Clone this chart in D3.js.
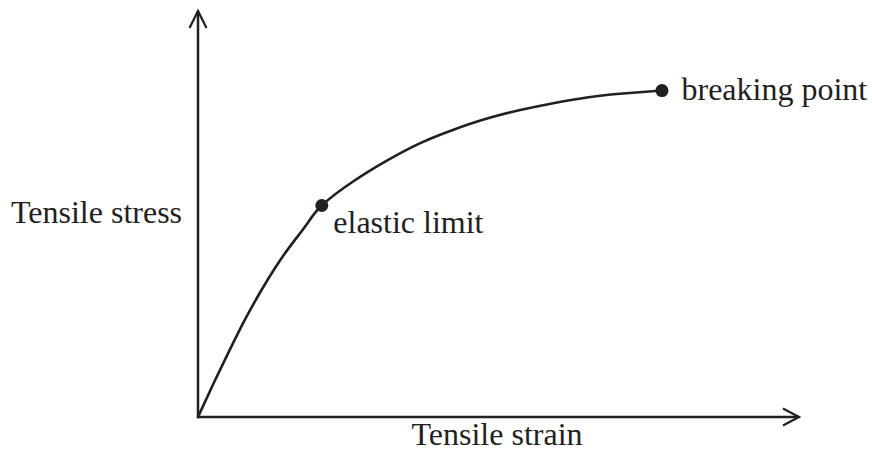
<!DOCTYPE html>
<html>
<head>
<meta charset="utf-8">
<script src="https://cdn.jsdelivr.net/npm/d3@7"></script>
<style>
  html, body { margin: 0; padding: 0; background: #ffffff; }
  svg { display: block; }
  text { font-family: "Liberation Serif", "Times New Roman", Times, serif; fill: #231f20; }
</style>
</head>
<body>
<svg id="chart" width="872" height="457"></svg>
<script>
// ---- data (arbitrary units: strain 0..10, stress 0..10) ----
const strain = [0, 0.26, 0.52, 0.77, 1.03, 1.29, 1.55, 1.81, 2.06, 2.58, 3.15, 3.69, 4.24, 4.81, 5.36, 5.91, 6.47, 7.02, 7.72];
const stress = [0, 0.83, 1.63, 2.37, 3.06, 3.69, 4.24, 4.75, 5.21, 5.80, 6.32, 6.74, 7.07, 7.35, 7.56, 7.73, 7.87, 7.96, 8.04];
const pointLabels = ["elastic limit", "breaking point"];
const pointStrain = [2.06, 7.72];
const pointStress = [5.21, 8.04];
const xLabel = "Tensile strain";
const yLabel = "Tensile stress";
const xDomain = [0, 10];
const yDomain = [0, 10];

const ink = "#231f20";
const fs = 32;
const svg = d3.select("#chart");
const x = d3.scaleLinear().domain(xDomain).range([198, 799]);
const y = d3.scaleLinear().domain(yDomain).range([417, 11]);

// axes
svg.append("line")
  .attr("x1", x(0)).attr("y1", y(0)).attr("x2", x(xDomain[1])).attr("y2", y(0))
  .attr("stroke", ink).attr("stroke-width", 2.5);
svg.append("line")
  .attr("x1", x(0)).attr("y1", y(0) + 1.2).attr("x2", x(0)).attr("y2", y(yDomain[1]))
  .attr("stroke", ink).attr("stroke-width", 2.5);

// arrow heads (open chevrons)
const xt = [x(xDomain[1]), y(0)];
svg.append("path")
  .attr("d", `M${xt[0] - 16},${xt[1] - 8.5} L${xt[0]},${xt[1]} L${xt[0] - 16},${xt[1] + 8.5}`)
  .attr("fill", "none").attr("stroke", ink).attr("stroke-width", 2.2);
const yt = [x(0), y(yDomain[1])];
svg.append("path")
  .attr("d", `M${yt[0] - 8.5},${yt[1] + 17} L${yt[0]},${yt[1]} L${yt[0] + 8.5},${yt[1] + 17}`)
  .attr("fill", "none").attr("stroke", ink).attr("stroke-width", 2.2);

// curve
const pts = strain.map((s, i) => [s, stress[i]]);
const line = d3.line().x(d => x(d[0])).y(d => y(d[1])).curve(d3.curveNatural);
svg.append("path")
  .attr("d", line(pts))
  .attr("fill", "none").attr("stroke", ink).attr("stroke-width", 2.6)
  .attr("stroke-linejoin", "round").attr("stroke-linecap", "round");

// marked points
svg.selectAll("circle.pt")
  .data(pointLabels)
  .join("circle")
  .attr("class", "pt")
  .attr("cx", (d, i) => x(pointStrain[i]))
  .attr("cy", (d, i) => y(pointStress[i]))
  .attr("r", 6.5)
  .attr("fill", ink);

// point labels
svg.append("text")
  .attr("x", x(pointStrain[0]) + 11.5).attr("y", y(pointStress[0]) + 28)
  .attr("font-size", fs).text(pointLabels[0]);
svg.append("text")
  .attr("x", x(pointStrain[1]) + 19.5).attr("y", y(pointStress[1]) + 9)
  .attr("font-size", fs).text(pointLabels[1]);

// axis labels
svg.append("text")
  .attr("x", (x(xDomain[0]) + x(xDomain[1])) / 2 - 1.5).attr("y", 445)
  .attr("text-anchor", "middle").attr("font-size", fs).text(xLabel);
svg.append("text")
  .attr("x", 11).attr("y", 223)
  .attr("font-size", fs).text(yLabel);
</script>
</body>
</html>
